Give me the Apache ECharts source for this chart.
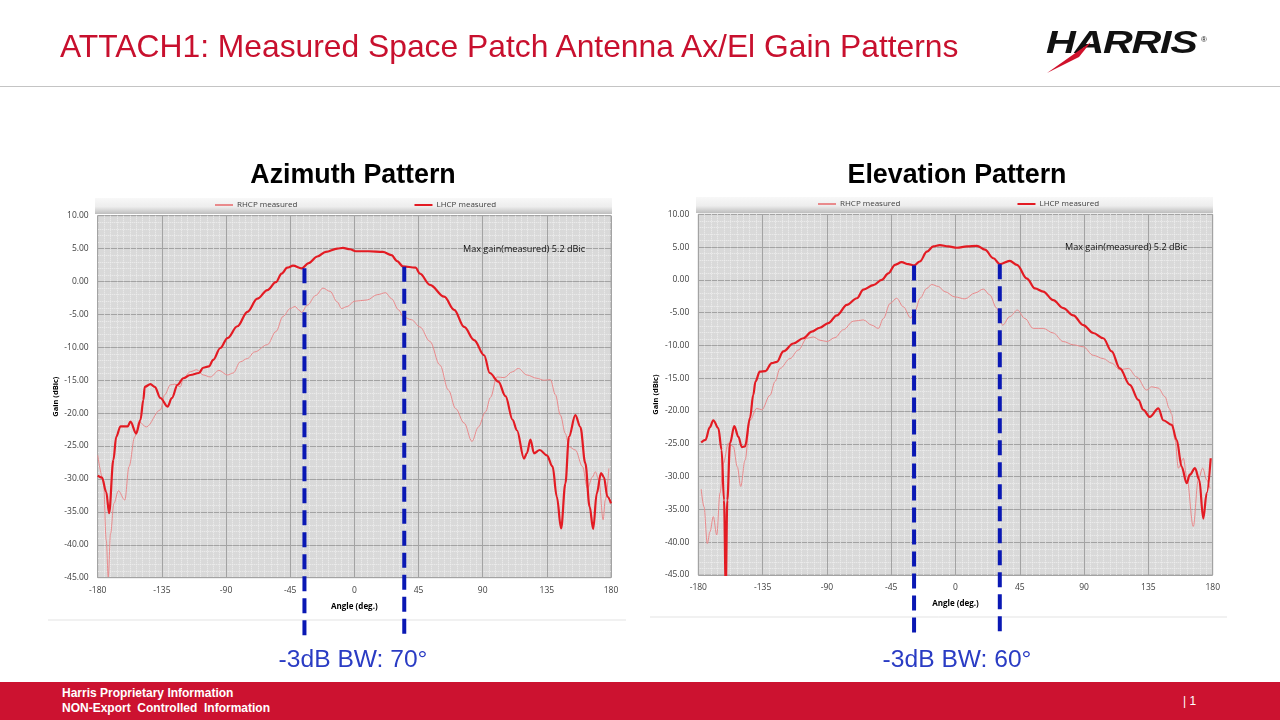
<!DOCTYPE html>
<html>
<head>
<meta charset="utf-8">
<script src="https://cdn.jsdelivr.net/npm/echarts@6/dist/echarts.min.js"></script>
<style>
html,body{margin:0;padding:0;width:1280px;height:720px;overflow:hidden;background:#fff;font-family:"Liberation Sans",Arial,sans-serif;}
#main{position:absolute;left:0;top:0;width:1280px;height:720px;}
.hdr{position:absolute;left:60px;top:28px;font-size:31.8px;line-height:36px;color:#c8102e;white-space:nowrap;}
.rule{position:absolute;left:0;top:86px;width:1280px;height:1px;background:#c4c4c4;}
.logo{position:absolute;left:1046px;top:24px;font-size:32px;font-weight:bold;font-style:italic;color:#111;transform:scaleX(1.29);transform-origin:left top;letter-spacing:-1px;}
.reg{position:absolute;left:1201px;top:35px;font-size:8px;color:#111;}
.swoosh{position:absolute;left:0;top:0;}
.foot{position:absolute;left:0;top:682px;width:1280px;height:38px;background:#cc1230;}
.ftxt{position:absolute;left:62px;top:686px;color:#fff;font-size:12px;font-weight:bold;line-height:15px;}
.pg{position:absolute;left:1183px;top:694px;color:#fff;font-size:12px;}
</style>
</head>
<body>
<div id="main"></div>
<div class="hdr">ATTACH1: Measured Space Patch Antenna Ax/El Gain Patterns</div>
<div class="rule"></div>
<div class="logo">HARRIS</div>
<div class="reg">®</div>
<svg class="swoosh" width="1280" height="90"><polygon points="1047,73 1091,42 1079,57" fill="#d0112b"/></svg>
<div class="foot"></div>
<div class="ftxt">Harris Proprietary Information<br>NON-Export&nbsp; Controlled&nbsp; Information</div>
<div class="pg">| 1</div>
<script>
// Azimuth pattern (left)
var azLhcpAngle = [-180,-177,-174,-172,-169,-167,-164,-159,-157,-153,-150,-148,-147,-143,-140,-136,-131,-128,-124,-120,-115,-109,-106,-102,-99,-94,-89,-82,-75,-68,-61,-55,-51,-47,-43,-37,-32,-26,-20,-12,-8,-3,1,10,20,26,30,34,43,46,53,63,70,77,84,91,95,101,106,111,114,119,121,123.5,126,130,135,139,142,145,148,150.5,155,158.5,162,165,167.5,170,173,175,177.5,180];
var azLhcpGain = [-29.5,-29.8,-32,-35.2,-27.1,-23.6,-22.0,-22.0,-21.3,-23.1,-21.0,-18.0,-16.0,-15.6,-16.0,-17.7,-19.0,-17.7,-15.7,-14.7,-14.2,-13.9,-13.1,-12.9,-11.9,-10.1,-8.6,-6.8,-4.6,-2.6,-1.3,-0.1,1.2,2.1,2.4,2.0,2.8,3.8,4.5,5.0,5.1,4.9,4.6,4.6,4.5,4.0,3.1,2.3,2.1,1.2,-0.5,-2.3,-4.3,-6.9,-8.9,-11.2,-13.9,-15.2,-17.4,-21.0,-22.6,-26.9,-26.1,-24.0,-26.1,-25.6,-26.4,-28.1,-32.7,-37.5,-30.7,-23.6,-20.3,-22.1,-27.6,-34.2,-37.6,-32.2,-29.1,-29.7,-32.7,-33.7];
var azRhcpAngle = [-180,-176,-174,-172.6,-171,-168.6,-165.5,-161,-158,-154,-151,-146,-136,-133,-129,-126,-122,-120,-115,-110.5,-106,-101,-95,-89,-85,-80,-75,-70,-61,-55,-50,-45,-41.5,-39,-37,-33,-27,-22,-17,-12,-9,-5,0,9,16,22,26,31,34.5,40,46,53,60,66,71,77,82.5,87,92,95.5,100,105,111,115,121,128,133,137.5,141,144.5,148,150.5,155,160,163.5,167,169,171.5,174.5,176,178.5];
var azRhcpGain = [-26.4,-30.2,-39.3,-44.9,-38.3,-33.7,-31.8,-33.2,-28.1,-23.6,-21.3,-22.1,-19.5,-17.2,-15.7,-15.6,-16.0,-14.7,-13.7,-13.4,-14.2,-14.5,-13.5,-14.2,-13.9,-12.2,-11.7,-10.7,-9.6,-7.6,-5.3,-4.1,-3.8,-4.3,-4.7,-3.6,-2.1,-1.0,-1.5,-3.1,-4.1,-3.8,-3.0,-2.8,-2.0,-1.7,-2.6,-4.3,-5.4,-5.8,-6.9,-9.1,-12.7,-16.5,-19.3,-21.5,-24.3,-22.1,-19.8,-17.6,-14.5,-14.6,-13.7,-13.2,-14.2,-14.7,-15.0,-14.9,-17.2,-20.3,-23.1,-25.1,-25.6,-28.1,-31.4,-29.7,-28.9,-30.2,-36.2,-33.2,-28.4];

// Elevation pattern (right)
var elLhcpAngle = [-178,-175,-172,-169.5,-166,-163.7,-162,-160.8,-159.7,-157.8,-154.8,-152,-149.5,-147.3,-143.8,-141.5,-140,-137,-133,-128.6,-125,-120.5,-113.5,-106.5,-100.6,-95,-89,-83,-76,-69,-64.5,-57.5,-51.6,-47,-42.3,-37.7,-33,-29,-25,-20,-15.5,-11,-5,1,8,15,20.6,26.5,31,38,43,50,55.6,61.4,68.4,75.4,82.4,89.4,96.4,103.4,109.3,115,122,128,131.4,136,142,145.4,151.3,154.8,158.3,161.8,164,167.6,170.6,173.4,175.8,178.6];
var elLhcpGain = [-24.8,-24.4,-22.5,-21.4,-22.6,-25.9,-33.6,-47,-33.6,-24.9,-22.3,-23.9,-25.5,-25.4,-21.0,-17.5,-15.5,-14.0,-13.9,-12.7,-12.5,-10.9,-9.7,-8.9,-7.9,-7.3,-6.6,-5.4,-3.8,-2.8,-1.5,-0.8,0,1.0,2.3,2.7,2.4,2.2,2.8,4.3,5.1,5.3,5.1,4.9,5.1,5.2,4.6,3.3,2.4,2.9,2.3,0.2,-1.3,-1.8,-3.1,-4.3,-5.4,-6.9,-8.1,-8.9,-10.9,-13.5,-16.0,-18.3,-19.8,-20.9,-19.6,-21.4,-22.1,-24.4,-28.5,-31.0,-29.7,-28.7,-30.5,-36.4,-32.5,-27.2];
var elRhcpAngle = [-178,-176,-173.7,-171.8,-169.5,-167.1,-164.8,-162.5,-159,-155.5,-152.7,-150.3,-147.3,-143.8,-139.1,-135.6,-129.8,-126.3,-122.8,-115.8,-110,-104,-99.5,-94.8,-90,-84.3,-78.5,-71.5,-64.5,-58.6,-54,-50.5,-45.8,-41.2,-36.5,-31.4,-28.4,-24.8,-20.1,-16.7,-12,-7.4,-0.4,6.6,13.6,19.5,24,28.8,33,38,43.3,48.6,54.4,61.4,68.4,75.4,82.4,89.4,96.4,103.4,109.3,115,121,126.8,133.8,137.3,141.9,146.6,149.6,151.3,153.6,156,159.5,161.8,166.4,169.9,173,175.8,178.1];
var elRhcpGain = [-31.9,-34.6,-40.2,-38.4,-36.1,-38.9,-32.5,-28.0,-24.9,-25.4,-28.5,-31.5,-27.5,-21.4,-19.6,-19.8,-17.6,-15.5,-13.5,-12.0,-10.7,-8.9,-8.7,-9.2,-9.4,-8.8,-7.6,-6.3,-6.1,-6.9,-7.4,-5.9,-3.6,-2.8,-4.1,-5.8,-4.8,-2.8,-1.3,-0.7,-1.0,-1.8,-2.6,-2.9,-2.0,-1.4,-2.3,-4.3,-6.9,-5.6,-4.6,-5.9,-7.4,-7.4,-8.1,-9.4,-9.9,-10.2,-11.5,-12.0,-12.7,-13.7,-13.5,-14.8,-16.8,-16.3,-16.5,-17.8,-19.6,-20.5,-24.4,-28.7,-27.2,-30.0,-37.6,-30.5,-28.7,-30.5,-31.8];

var xTicks = [-180, 180, 45];      // min, max, step (deg)
var yTicks = [-45, 10, 5];         // min, max, step (dBic)
var seriesNames = ['RHCP measured', 'LHCP measured'];
var chartTitles = ['Azimuth Pattern', 'Elevation Pattern'];
var bwLabels = ['-3dB BW: 70\u00b0', '-3dB BW: 60\u00b0'];
// -3 dB beamwidth edges: angle and gain where the dashed marker starts
var bwAngles = [[-35, 35], [-29, 31]];
var bwGains = [[2.0, 2.25], [2.2, 2.4]];
var maxGainNote = 'Max gain(measured) 5.2 dBic';

function pairs(a, g) {
	return a.map(function(v, i) { return [v, g[i]]; });
}

var grids = [
	{left: 97.7, top: 215.7, width: 513.3, height: 362},
	{left: 698.3, top: 214.3, width: 514.4, height: 360.7}
];

var chart = echarts.init(document.getElementById('main'));

var xAxes = [], yAxes = [], legends = [];
var legendLeft = [214, 817], legendTop = [201, 200];
for (var i = 0; i < 2; i++) {
	grids[i].show = true;
	grids[i].backgroundColor = '#d9d9d9';
	grids[i].borderColor = '#a6a6a6';
	grids[i].borderWidth = 1;
	xAxes.push({
		gridIndex: i, type: 'value', min: xTicks[0], max: xTicks[1], interval: xTicks[2],
		axisLine: {show: false}, axisTick: {show: false},
		axisLabel: {color: '#404040', fontSize: 8.5, margin: 8, fontFamily: 'Open Sans'},
		splitLine: {lineStyle: {color: '#a3a3a3', width: 1}},
		minorTick: {show: false, splitNumber: 10},
		minorSplitLine: {show: true, lineStyle: {color: '#efefef', type: 'dotted', width: 1}},
		name: 'Angle (deg.)', nameLocation: 'middle', nameGap: 25,
		nameTextStyle: {fontWeight: 'bold', fontSize: 8, color: '#000', fontFamily: 'Open Sans'}
	});
	yAxes.push({
		gridIndex: i, type: 'value', min: yTicks[0], max: yTicks[1], interval: yTicks[2],
		axisLine: {show: false}, axisTick: {show: false},
		axisLabel: {color: '#404040', fontSize: 8.5, margin: 9, fontFamily: 'Open Sans',
			formatter: function(v) { return v.toFixed(2); }},
		splitLine: {lineStyle: {color: '#a3a3a3', width: 1}},
		minorTick: {show: false, splitNumber: 5},
		minorSplitLine: {show: true, lineStyle: {color: '#efefef', type: 'dotted', width: 1}},
		name: 'Gain (dBic)', nameLocation: 'middle', nameGap: 38, nameRotate: 90,
		nameTextStyle: {fontWeight: 'bold', fontSize: 7.5, color: '#000', fontFamily: 'Open Sans'}
	});
	legends.push({
		data: seriesNames, left: legendLeft[i], top: legendTop[i], padding: 0,
		itemGap: 116, itemWidth: 18, itemHeight: 8, selectedMode: false,
		itemStyle: {opacity: 0},
		textStyle: {fontSize: 8, color: '#404040', fontFamily: 'Open Sans', padding: [0, 0, 0, -1]}
	});
}

function lineSeries(name, idx, a, g) {
	var thick = name === seriesNames[1];
	return {
		name: name, type: 'line', xAxisIndex: idx, yAxisIndex: idx,
		data: pairs(a, g), symbol: 'none', smooth: 0.35, smoothMonotone: 'x',
		lineStyle: {color: thick ? '#e31b23' : '#e98a8c', width: thick ? 2.2 : 1},
		itemStyle: {color: thick ? '#e31b23' : '#e98a8c'},
		z: thick ? 3 : 2
	};
}

chart.setOption({
	animation: false,
	grid: grids,
	xAxis: xAxes,
	yAxis: yAxes,
	legend: legends,
	series: [
		lineSeries(seriesNames[0], 0, azRhcpAngle, azRhcpGain),
		lineSeries(seriesNames[1], 0, azLhcpAngle, azLhcpGain),
		lineSeries(seriesNames[0], 1, elRhcpAngle, elRhcpGain),
		lineSeries(seriesNames[1], 1, elLhcpAngle, elLhcpGain)
	]
});

// slide decorations + annotations
var gfx = [];
var bands = [[95, 198, 517, 16], [696, 197, 517, 16]];
var panelBottom = [[48, 620, 626], [650, 617, 1227]];
var titleCenter = [353, 957];
var notePos = [[463, 249], [1065, 247]];
for (var k = 0; k < 2; k++) {
	gfx.push({
		type: 'rect', z: 1, silent: true,
		shape: {x: bands[k][0], y: bands[k][1], width: bands[k][2], height: bands[k][3]},
		style: {fill: new echarts.graphic.LinearGradient(0, 0, 0, 1, [
			{offset: 0, color: '#f8f8f8'}, {offset: 0.55, color: '#ededed'}, {offset: 1, color: '#bdbdbd'}])}
	});
	gfx.push({
		type: 'line', z: 1, silent: true,
		shape: {x1: panelBottom[k][0], y1: panelBottom[k][1], x2: panelBottom[k][2], y2: panelBottom[k][1]},
		style: {stroke: '#e3e3e3', lineWidth: 1}
	});
	gfx.push({
		type: 'text', z: 10, x: titleCenter[k], y: 176,
		style: {text: chartTitles[k], fill: '#000', font: 'bold 26.8px "Liberation Sans", Arial',
			textAlign: 'center', textVerticalAlign: 'middle'}
	});
	gfx.push({
		type: 'text', z: 10, x: titleCenter[k], y: 660,
		style: {text: bwLabels[k], fill: '#2a3cc4', font: '24.6px "Liberation Sans", Arial',
			textAlign: 'center', textVerticalAlign: 'middle'}
	});
	gfx.push({
		type: 'text', z: 10, x: notePos[k][0], y: notePos[k][1],
		style: {text: maxGainNote, fill: '#111', font: '9.1px "Open Sans"',
			textAlign: 'left', textVerticalAlign: 'middle'}
	});
	for (var j = 0; j < 2; j++) {
		var p = chart.convertToPixel({gridIndex: k}, [bwAngles[k][j], bwGains[k][j]]);
		gfx.push({
			type: 'line', z: 20, silent: true,
			shape: {x1: p[0], y1: p[1], x2: p[0], y2: 636},
			style: {stroke: '#0a18b4', lineWidth: 4, lineDash: [15, 7]}
		});
	}
}
chart.setOption({graphic: gfx});
</script>
</body>
</html>
